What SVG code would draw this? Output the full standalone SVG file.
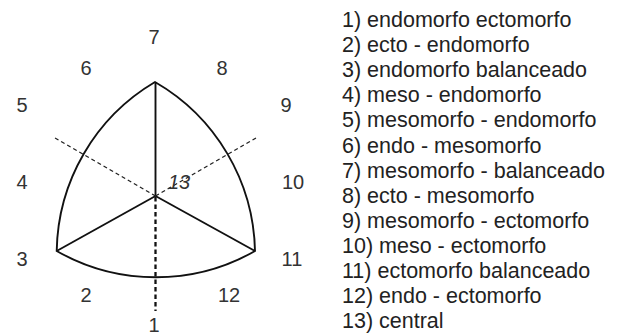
<svg xmlns="http://www.w3.org/2000/svg" width="621" height="336" viewBox="0 0 621 336">
<style>
text{font-family:"Liberation Sans",Arial,sans-serif;fill:#222}
.lab{font-size:20px;text-anchor:middle;fill:#333}
.leg{font-size:21.5px}
.solid{stroke:#111;fill:none;stroke-width:1.9}
.dash{stroke:#222;fill:none;stroke-width:1.3;stroke-dasharray:4 3}
.dashb{stroke:#111;fill:none;stroke-width:2.3;stroke-dasharray:4.5 3}
</style>
<rect width="621" height="336" fill="#fff"/>
<g id="connectors">
<path class="solid" d="M155,82 A200,200 0 0 0 56.7,251 A200,200 0 0 0 255,251 A200,200 0 0 0 155,82 Z"/>
<line class="solid" x1="155.5" y1="82" x2="155.5" y2="196" stroke-width="2.3"/>
<line class="solid" x1="155.5" y1="196" x2="56.7" y2="251"/>
<line class="solid" x1="155.5" y1="196" x2="255" y2="251"/>
<line class="dashb" x1="155.5" y1="197" x2="155.5" y2="311"/>
<line class="dash" x1="155.5" y1="196" x2="55" y2="138"/>
<line class="dash" x1="155.5" y1="196" x2="256" y2="138"/>
</g>
<g id="labels">
<text class="lab" x="154" y="44">7</text>
<text class="lab" x="86" y="75">6</text>
<text class="lab" x="222" y="75">8</text>
<text class="lab" x="22" y="112">5</text>
<text class="lab" x="286" y="112">9</text>
<text class="lab" x="22" y="189">4</text>
<text class="lab" x="293" y="189">10</text>
<text class="lab" x="179" y="189" font-style="italic">13</text>
<text class="lab" x="22" y="266">3</text>
<text class="lab" x="292" y="266">11</text>
<text class="lab" x="86" y="302">2</text>
<text class="lab" x="229" y="302">12</text>
<text class="lab" x="154" y="332">1</text>
</g>
<g id="legend">
<text class="leg" x="342" y="27">1) endomorfo ectomorfo</text>
<text class="leg" x="342" y="52.1">2) ecto - endomorfo</text>
<text class="leg" x="342" y="77.2">3) endomorfo balanceado</text>
<text class="leg" x="342" y="102.3">4) meso - endomorfo</text>
<text class="leg" x="342" y="127.4">5) mesomorfo - endomorfo</text>
<text class="leg" x="342" y="152.5">6) endo - mesomorfo</text>
<text class="leg" x="342" y="177.6">7) mesomorfo - balanceado</text>
<text class="leg" x="342" y="202.7">8) ecto - mesomorfo</text>
<text class="leg" x="342" y="227.8">9) mesomorfo - ectomorfo</text>
<text class="leg" x="342" y="252.9">10) meso - ectomorfo</text>
<text class="leg" x="342" y="278">11) ectomorfo balanceado</text>
<text class="leg" x="342" y="303.1">12) endo - ectomorfo</text>
<text class="leg" x="342" y="328.2">13) central</text>
</g>
</svg>
